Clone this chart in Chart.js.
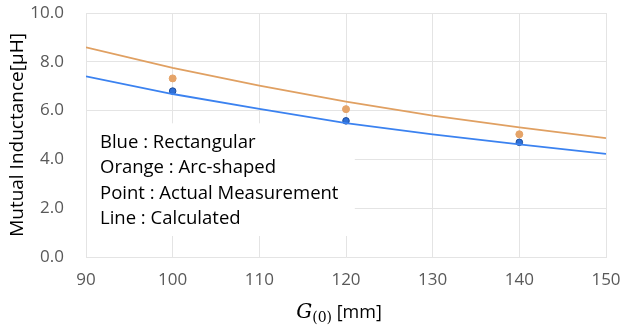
<!DOCTYPE html>
<html>
<head>
<meta charset="utf-8">
<script src="https://cdn.jsdelivr.net/npm/chart.js@4/dist/chart.umd.min.js"></script>
<style>
  html, body { margin: 0; padding: 0; background: #fff; }
  #wrap { width: 621px; height: 332px; }
</style>
</head>
<body>
<div id="wrap"><canvas id="chart" width="621" height="332"></canvas></div>
<script>
// gap G(0) in mm
const gapCalc = [90, 100, 110, 120, 130, 140, 150];
const rectCalc = [7.40, 6.68, 6.07, 5.49, 5.03, 4.62, 4.23];
const arcCalc = [8.59, 7.75, 7.02, 6.37, 5.79, 5.31, 4.87];

const gapMeas = [100, 120, 140];
const rectMeas = [6.80, 5.58, 4.70];
const arcMeas = [7.32, 6.06, 5.03];

const legendLines = ['Blue : Rectangular', 'Orange : Arc-shaped', 'Point : Actual Measurement', 'Line : Calculated'];

const blue = '#3B82F0';
const orange = '#E0A062';

function pts(xs, ys){
	return xs.map((x, i) => ({ x, y: ys[i] }));
}

// white note box over the grid, then its text
const noteBox = {
	id: 'noteBox',
	beforeDatasetsDraw(chart){
		const { ctx, scales } = chart;
		const x0 = scales.x.getPixelForValue(90);
		const x1 = scales.x.getPixelForValue(120.9);
		const y0 = scales.y.getPixelForValue(5.48);
		const y1 = scales.y.getPixelForValue(0.86);
		ctx.save();
		ctx.fillStyle = '#fff';
		ctx.fillRect(x0 + 1, y0, x1 - x0, y1 - y0);
		ctx.fillStyle = '#000';
		ctx.font = '18.5px "Open Sans", sans-serif';
		ctx.textBaseline = 'middle';
		legendLines.forEach((t, i) => {
			ctx.fillText(t, x0 + 14, y0 + 19 + i * 25.5);
		});
		ctx.restore();
	}
};

// x title with math-style G_(0)
const xTitle = {
	id: 'xTitle',
	afterDraw(chart){
		const { ctx } = chart;
		const cx = (chart.chartArea.left + chart.chartArea.right) / 2;
		const y = 318;
		ctx.save();
		ctx.fillStyle = '#000';
		ctx.textBaseline = 'alphabetic';
		ctx.font = 'italic 20px "DejaVu Serif", "Liberation Serif", serif';
		const gW = ctx.measureText('G').width;
		ctx.font = '14px "DejaVu Serif", "Liberation Serif", serif';
		const subW = ctx.measureText('(0)').width;
		ctx.font = '18px "Open Sans", sans-serif';
		const restW = ctx.measureText(' [mm]').width;
		let x = cx - (gW + subW + restW) / 2 - 7;
		ctx.font = 'italic 20px "DejaVu Serif", "Liberation Serif", serif';
		ctx.fillText('G', x, y);
		x += gW;
		ctx.font = '14px "DejaVu Serif", "Liberation Serif", serif';
		ctx.fillText('(0)', x, y + 4);
		x += subW;
		ctx.font = '18px "Open Sans", sans-serif';
		ctx.fillText(' [mm]', x, y);
		ctx.restore();
	}
};

new Chart(document.getElementById('chart'), {
	type: 'scatter',
	data: {
		datasets: [
			{ data: pts(gapCalc, arcCalc), showLine: true, borderColor: orange, borderWidth: 1.8, pointRadius: 0, tension: 0 },
			{ data: pts(gapCalc, rectCalc), showLine: true, borderColor: blue, borderWidth: 1.8, pointRadius: 0, tension: 0 },
			{ data: pts(gapMeas, arcMeas), showLine: false, pointRadius: 3.5, backgroundColor: '#E5A469', borderColor: '#E5A469', borderWidth: 1 },
			{ data: pts(gapMeas, rectMeas), showLine: false, pointRadius: 3.3, backgroundColor: '#2F6FD6', borderColor: '#1F4E9A', borderWidth: 1 }
		]
	},
	plugins: [noteBox, xTitle],
	options: {
		responsive: false,
		animation: false,
		layout: { padding: { left: 0, right: 15, top: 13, bottom: 0 } },
		plugins: { legend: { display: false }, tooltip: { enabled: false } },
		scales: {
			x: {
				min: 90, max: 150,
				grid: { color: '#E4E4E4', lineWidth: 1, drawTicks: false },
				border: { color: '#E4E4E4' },
				ticks: { stepSize: 10, color: '#595959', font: { size: 17, family: '"Open Sans", sans-serif' }, padding: 13, maxRotation: 0 },
				afterFit(scale){ scale.height = 75; scale.paddingRight = 0; scale.paddingLeft = 0; }
			},
			y: {
				min: 0, max: 10,
				grid: { color: '#E4E4E4', lineWidth: 1, drawTicks: false },
				border: { color: '#E4E4E4' },
				ticks: { stepSize: 2, color: '#595959', font: { size: 17, family: '"Open Sans", sans-serif' }, padding: 22,
					callback: v => v.toFixed(1) },
				title: { display: true, text: 'Mutual Inductance[μH]', color: '#000', font: { size: 19, family: '"Open Sans", sans-serif' }, padding: { top: 6, bottom: 0 } },
				afterFit(scale){ scale.width = 86; scale.paddingTop = 0; scale.paddingBottom = 0; }
			}
		}
	}
});
</script>
</body>
</html>
